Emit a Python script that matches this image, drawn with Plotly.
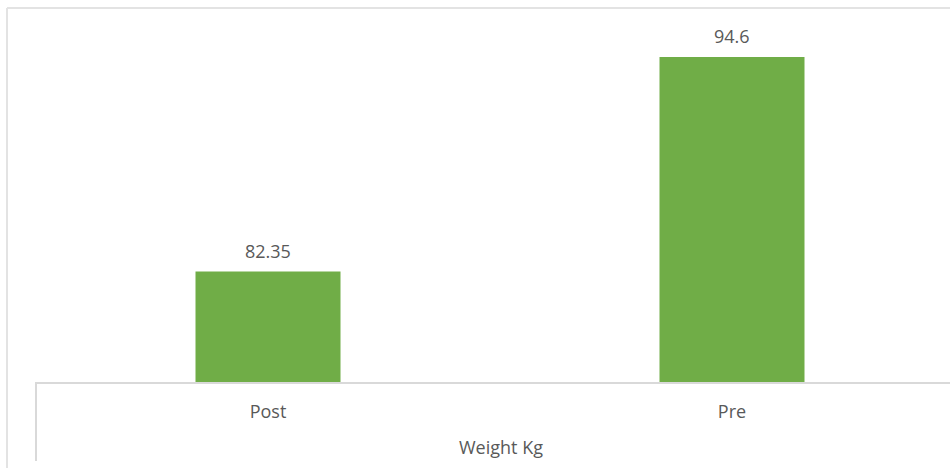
import plotly.graph_objects as go

# Body weight before and after
categories = ["Post", "Pre"]
weights = [82.35, 94.6]
value_labels = ["82.35", "94.6"]
axis_title = "Weight Kg"

W, H = 950, 468
left, top, bottom = 36, 8, 86
plot_w = W - left
plot_h = H - top - bottom

bar_color = "#70AD47"
text_color = "#595959"
line_color = "#D9D9D9"
font_family = "Open Sans, Noto Sans, sans-serif"

y_min = 76.04
px_per_unit = 17.51
y_max = y_min + plot_h / px_per_unit
x_units = plot_w / 464.0

fig = go.Figure(
    go.Bar(
        x=categories,
        y=weights,
        width=0.3125,
        marker=dict(color=bar_color, line=dict(width=0)),
        hoverinfo="skip",
    )
)

# Value labels above the bars
for cat, val, lab in zip(categories, weights, value_labels):
    fig.add_annotation(
        x=cat, y=val, text=lab, showarrow=False,
        yanchor="middle", yshift=21,
        font=dict(family=font_family, size=18, color=text_color),
    )

# Chart frame (top and left edges) and category group divider
px_x = lambda px: (px - left) / plot_w
px_y = lambda px: (H - bottom - px) / plot_h
fig.add_shape(type="line", xref="paper", yref="paper",
              x0=px_x(7), x1=px_x(W + 5), y0=px_y(8), y1=px_y(8),
              line=dict(color="#E3E3E3", width=2))
fig.add_shape(type="line", xref="paper", yref="paper",
              x0=px_x(7), x1=px_x(7), y0=px_y(8), y1=px_y(H + 5),
              line=dict(color="#E3E3E3", width=2))
fig.add_shape(type="line", xref="paper", yref="paper",
              x0=0, x1=0, y0=0, y1=px_y(461),
              line=dict(color=line_color, width=2))

fig.add_annotation(
    xref="paper", yref="paper", x=px_x(501), y=px_y(447),
    text=axis_title, showarrow=False, xanchor="center", yanchor="middle",
    font=dict(family=font_family, size=18, color=text_color),
)

fig.update_layout(
    width=W, height=H,
    margin=dict(l=left, r=0, t=top, b=bottom),
    paper_bgcolor="white", plot_bgcolor="white",
    showlegend=False,
    xaxis=dict(
        range=[-0.5, -0.5 + x_units],
        showline=True, linecolor=line_color, linewidth=2,
        showgrid=False, zeroline=False, ticks="",
        tickfont=dict(family=font_family, size=18, color=text_color),
        ticklabelstandoff=12,
        fixedrange=True,
    ),
    yaxis=dict(
        range=[y_min, y_max], visible=False, showgrid=False,
        zeroline=False, fixedrange=True,
    ),
)

fig.write_html("out.html")
